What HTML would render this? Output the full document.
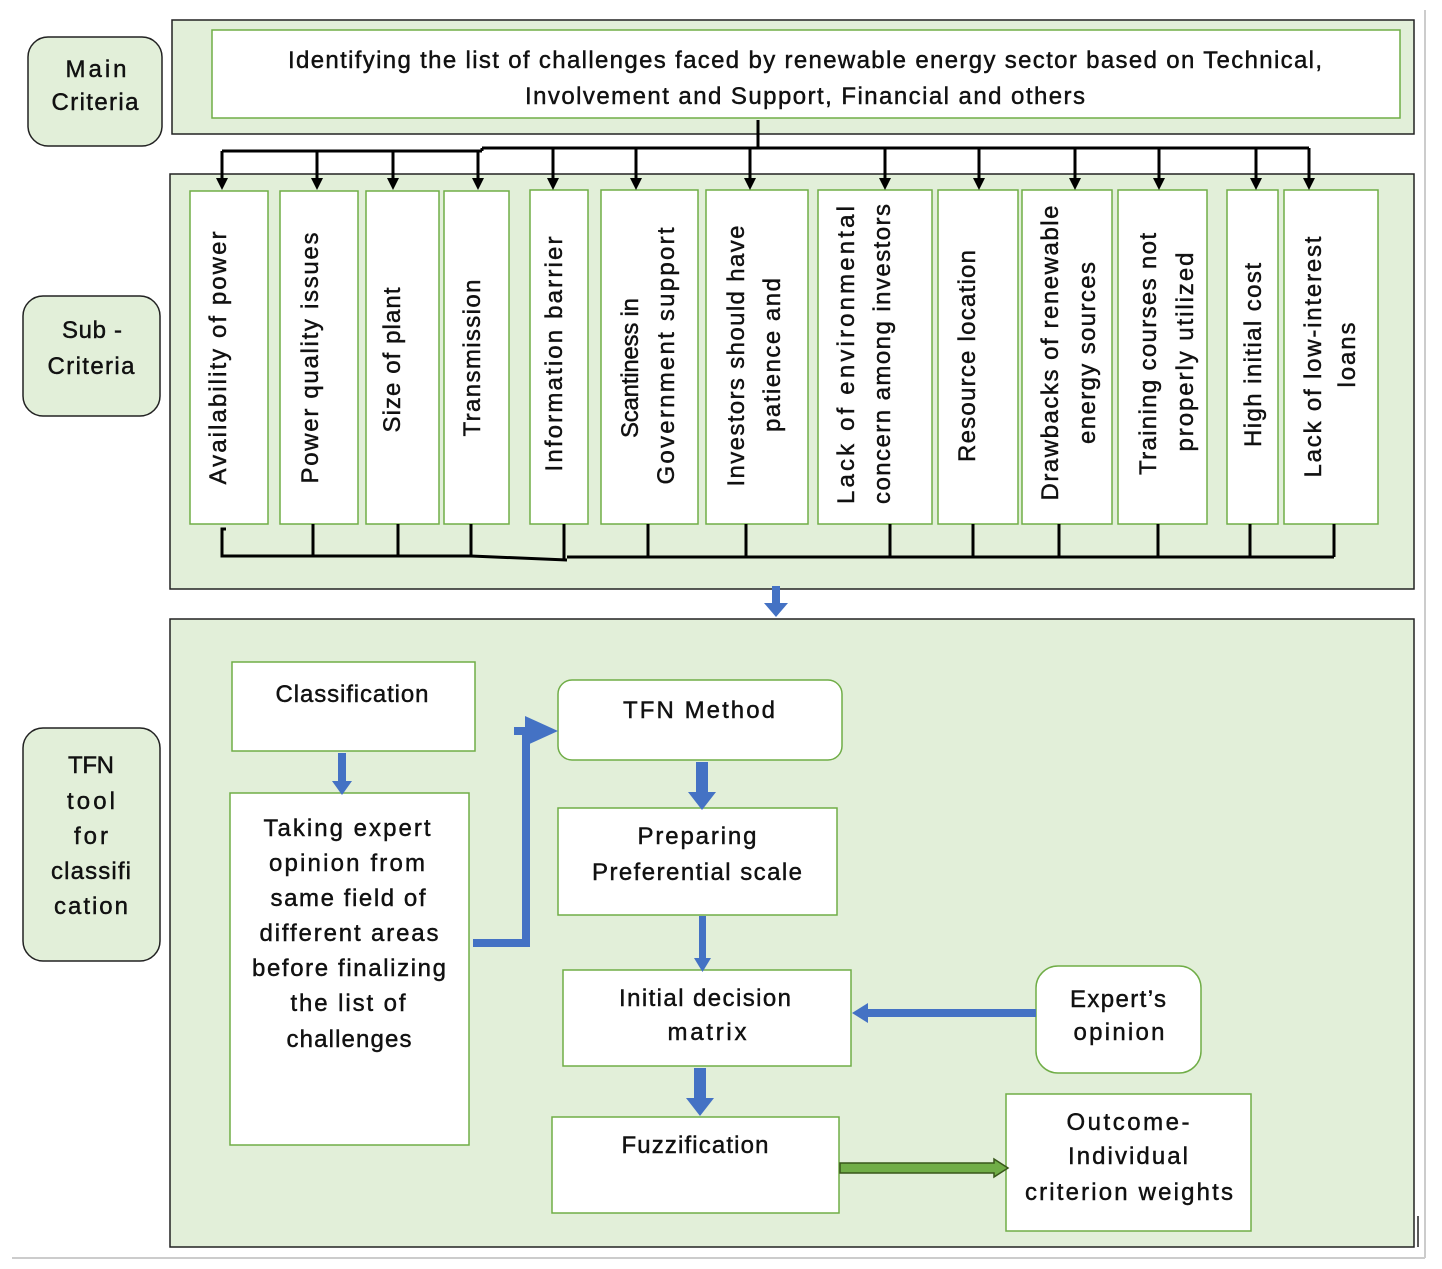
<!DOCTYPE html>
<html><head><meta charset="utf-8"><style>
html,body{margin:0;padding:0;background:#fff;}
svg{display:block;}
text{font-family:"Liberation Sans",sans-serif;fill:#111;stroke:#111;stroke-width:0.45;}
</style></head><body>
<svg width="1442" height="1269" viewBox="0 0 1442 1269" xmlns="http://www.w3.org/2000/svg">
<line x1="1425" y1="10" x2="1425" y2="1258" stroke="#ccc" stroke-width="2"/>
<line x1="12" y1="1258" x2="1425" y2="1258" stroke="#ccc" stroke-width="2"/>

<rect x="28" y="37" width="134" height="109" rx="20" fill="#e2efd9" stroke="#222" stroke-width="1.5"/>
<g font-size="24" text-anchor="middle">
<text x="96" y="77" textLength="61">Main</text>
<text x="95" y="110" textLength="87">Criteria</text>
</g>
<rect x="23" y="296" width="137" height="120" rx="20" fill="#e2efd9" stroke="#222" stroke-width="1.5"/>
<g font-size="24" text-anchor="middle">
<text x="92" y="338" textLength="60">Sub -</text>
<text x="91" y="374" textLength="87">Criteria</text>
</g>
<rect x="23" y="728" width="137" height="233" rx="20" fill="#e2efd9" stroke="#222" stroke-width="1.5"/>
<g font-size="24" text-anchor="middle">
<text x="91" y="773" textLength="46">TFN</text><text x="91" y="809" textLength="48">tool</text><text x="91" y="844" textLength="34">for</text><text x="91" y="879" textLength="80">classifi</text><text x="91" y="914" textLength="74">cation</text>
</g>

<rect x="172" y="20" width="1242" height="114" fill="#e2efd9" stroke="#222" stroke-width="1.5"/>
<rect x="212" y="30" width="1188" height="88" fill="#fff" stroke="#70ad47" stroke-width="1.5"/>
<text x="805" y="68" font-size="24" text-anchor="middle" textLength="1034">Identifying the list of challenges faced by renewable energy sector based on Technical,</text>
<text x="805" y="104" font-size="24" text-anchor="middle" textLength="560">Involvement and Support, Financial and others</text>

<rect x="170" y="174" width="1244" height="415" fill="#e2efd9" stroke="#222" stroke-width="1.5"/>
<g fill="#fff" stroke="#70ad47" stroke-width="1.5">
<rect x="190" y="191" width="78" height="333"/>
<rect x="280" y="191" width="78" height="333"/>
<rect x="366" y="191" width="73" height="333"/>
<rect x="444" y="191" width="65" height="333"/>
<rect x="530" y="190" width="58" height="334"/>
<rect x="601" y="190" width="97" height="334"/>
<rect x="706" y="190" width="102" height="334"/>
<rect x="818" y="190" width="114" height="334"/>
<rect x="938" y="190" width="80" height="334"/>
<rect x="1022" y="190" width="90" height="334"/>
<rect x="1118" y="190" width="89" height="334"/>
<rect x="1227" y="190" width="51" height="334"/>
<rect x="1284" y="190" width="94" height="334"/>
</g>
<g font-size="24" text-anchor="middle">
<text transform="translate(226,358) rotate(-90)" textLength="253">Availability of power</text>
<text transform="translate(318,358) rotate(-90)" textLength="251">Power quality issues</text>
<text transform="translate(400,360) rotate(-90)" textLength="145">Size of plant</text>
<text transform="translate(480,358) rotate(-90)" textLength="157">Transmission</text>
<text transform="translate(562,354) rotate(-90)" textLength="235">Information barrier</text>
<text transform="translate(638,368) rotate(-90)" textLength="140">Scantiness in</text>
<text transform="translate(674,356) rotate(-90)" textLength="257">Government support</text>
<text transform="translate(744,356) rotate(-90)" textLength="261">Investors should have</text>
<text transform="translate(780,355) rotate(-90)" textLength="154">patience and</text>
<text transform="translate(854,355) rotate(-90)" textLength="298">Lack of environmental</text>
<text transform="translate(890,354) rotate(-90)" textLength="300">concern among investors</text>
<text transform="translate(975,356) rotate(-90)" textLength="212">Resource location</text>
<text transform="translate(1058,353) rotate(-90)" textLength="295">Drawbacks of renewable</text>
<text transform="translate(1095,353) rotate(-90)" textLength="182">energy sources</text>
<text transform="translate(1156,354) rotate(-90)" textLength="242">Training courses not</text>
<text transform="translate(1193,352) rotate(-90)" textLength="199">properly utilized</text>
<text transform="translate(1261,355) rotate(-90)" textLength="184">High initial cost</text>
<text transform="translate(1321,357) rotate(-90)" textLength="241">Lack of low-interest</text>
<text transform="translate(1355,355) rotate(-90)" textLength="65">loans</text>
</g>

<g stroke="#000" stroke-width="3" fill="none">
<line x1="758" y1="120" x2="758" y2="148"/>
<line x1="482" y1="148" x2="1309" y2="148"/>
<line x1="222" y1="151" x2="482" y2="151"/>
<line x1="482" y1="148" x2="482" y2="151"/>
<line x1="222" y1="151" x2="222" y2="180"/>
<line x1="317" y1="151" x2="317" y2="180"/>
<line x1="393" y1="151" x2="393" y2="180"/>
<line x1="478" y1="151" x2="478" y2="180"/>
<line x1="553" y1="148" x2="553" y2="180"/>
<line x1="636" y1="148" x2="636" y2="180"/>
<line x1="750" y1="148" x2="750" y2="180"/>
<line x1="885" y1="148" x2="885" y2="180"/>
<line x1="979" y1="148" x2="979" y2="180"/>
<line x1="1075" y1="148" x2="1075" y2="180"/>
<line x1="1159" y1="148" x2="1159" y2="180"/>
<line x1="1256" y1="148" x2="1256" y2="180"/>
<line x1="1309" y1="148" x2="1309" y2="180"/>
</g>
<g fill="#000">
<polygon points="216,178 228,178 222,190"/>
<polygon points="311,178 323,178 317,190"/>
<polygon points="387,178 399,178 393,190"/>
<polygon points="472,178 484,178 478,190"/>
<polygon points="547,178 559,178 553,190"/>
<polygon points="630,178 642,178 636,190"/>
<polygon points="744,178 756,178 750,190"/>
<polygon points="879,178 891,178 885,190"/>
<polygon points="973,178 985,178 979,190"/>
<polygon points="1069,178 1081,178 1075,190"/>
<polygon points="1153,178 1165,178 1159,190"/>
<polygon points="1250,178 1262,178 1256,190"/>
<polygon points="1303,178 1315,178 1309,190"/>
</g>
<g stroke="#000" stroke-width="3" fill="none">
<polyline points="226,529 222,529 222,556 471,556"/>
<line x1="471" y1="556" x2="567" y2="560"/>
<line x1="567" y1="557" x2="1334" y2="557"/>
<polyline points="1334,524 1334,557"/>
<line x1="313" y1="524" x2="313" y2="556"/>
<line x1="398" y1="524" x2="398" y2="556"/>
<line x1="471" y1="524" x2="471" y2="556"/>
<line x1="564" y1="524" x2="564" y2="560"/>
<line x1="648" y1="524" x2="648" y2="557"/>
<line x1="746" y1="524" x2="746" y2="557"/>
<line x1="890" y1="524" x2="890" y2="557"/>
<line x1="973" y1="524" x2="973" y2="557"/>
<line x1="1059" y1="524" x2="1059" y2="557"/>
<line x1="1158" y1="524" x2="1158" y2="557"/>
<line x1="1250" y1="524" x2="1250" y2="557"/>
</g>
<rect x="772" y="586" width="8" height="20" fill="#4472c4"/>
<polygon points="764,603 788,603 776,617" fill="#4472c4"/>

<rect x="170" y="619" width="1244" height="628" fill="#e2efd9" stroke="#222" stroke-width="1.5"/>
<g fill="#fff" stroke="#70ad47" stroke-width="1.5">
<rect x="232" y="662" width="243" height="89"/>
<rect x="230" y="793" width="239" height="352"/>
<rect x="558" y="680" width="284" height="80" rx="14"/>
<rect x="558" y="808" width="279" height="107"/>
<rect x="563" y="970" width="288" height="96"/>
<rect x="1036" y="966" width="165" height="107" rx="22"/>
<rect x="552" y="1117" width="287" height="96"/>
<rect x="1006" y="1094" width="245" height="137"/>
</g>
<g font-size="24" text-anchor="middle">
<text x="352" y="702" textLength="153">Classification</text>
<text x="347" y="836" textLength="167">Taking expert</text>
<text x="347" y="871" textLength="156">opinion from</text>
<text x="348" y="906" textLength="155">same field of</text>
<text x="349" y="941" textLength="179">different areas</text>
<text x="349" y="976" textLength="194">before finalizing</text>
<text x="348" y="1011" textLength="115">the list of</text>
<text x="349" y="1047" textLength="125">challenges</text>
<text x="699" y="718" textLength="152">TFN Method</text>
<text x="697" y="844" textLength="119">Preparing</text>
<text x="697" y="880" textLength="210">Preferential scale</text>
<text x="705" y="1006" textLength="172">Initial decision</text>
<text x="707" y="1040" textLength="79">matrix</text>
<text x="1118" y="1007" textLength="96">Expert’s</text>
<text x="1119" y="1040" textLength="91">opinion</text>
<text x="695" y="1153" textLength="147">Fuzzification</text>
<text x="1128" y="1130" textLength="123">Outcome-</text>
<text x="1128" y="1164" textLength="120">Individual</text>
<text x="1129" y="1200" textLength="208">criterion weights</text>
</g>
<g fill="#4472c4">
<rect x="338" y="753" width="8" height="30"/><polygon points="332,781 352,781 342,795"/>
<polygon points="473,939 522,939 522,735 530,735 530,947 473,947"/>
<rect x="514" y="727" width="16" height="8"/>
<polygon points="525,716 558,731 525,746"/>
<rect x="696" y="762" width="12" height="32"/><polygon points="688,792 716,792 702,810"/>
<rect x="699" y="916" width="7" height="44"/><polygon points="694,958 711,958 702.5,972"/>
<rect x="866" y="1009" width="170" height="8"/><polygon points="868,1003 868,1023 852,1013"/>
<rect x="694" y="1068" width="12" height="32"/><polygon points="686,1098 714,1098 700,1116"/>
</g>
<polygon points="840,1163 994,1163 994,1159 1008,1168 994,1177 994,1173 840,1173" fill="#70ad47" stroke="#38571a" stroke-width="1.5"/>
<line x1="1418" y1="1216" x2="1418" y2="1247" stroke="#222" stroke-width="1.5"/>
</svg>
</body></html>
